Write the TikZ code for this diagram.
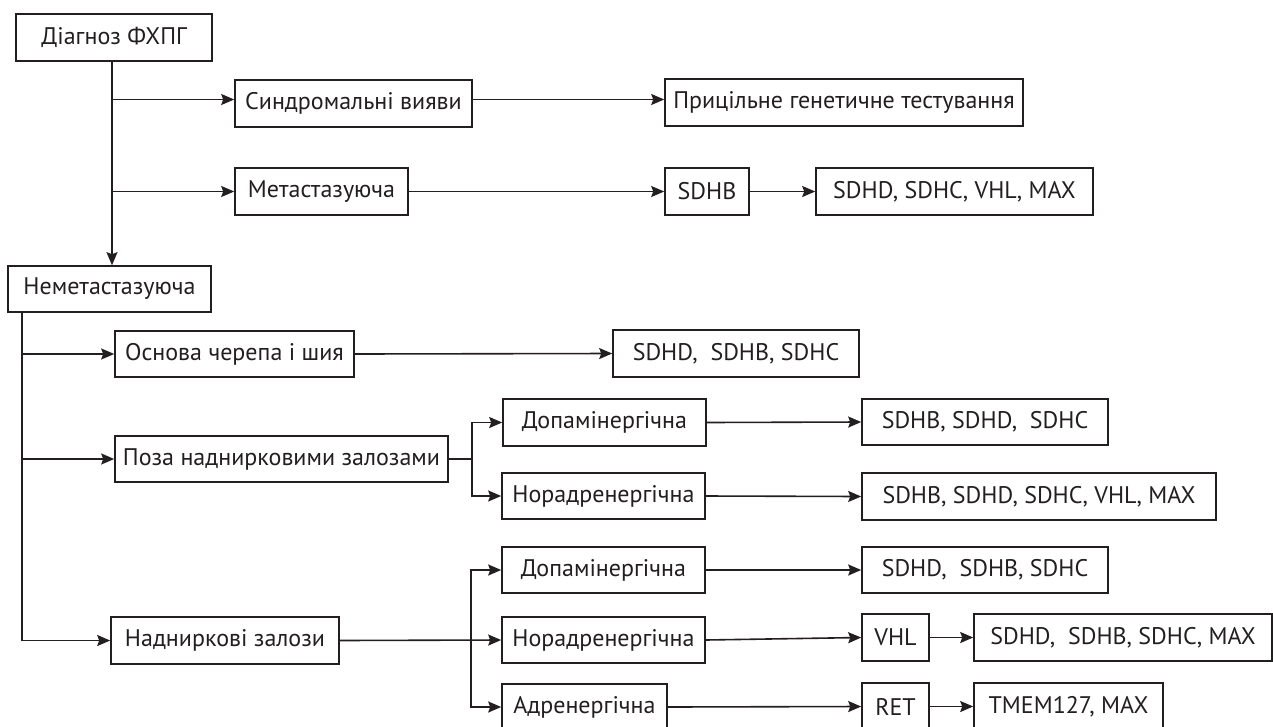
\documentclass[tikz,border=0pt]{standalone}
\usepackage{fontspec}
\setmainfont{PT Sans}
\usetikzlibrary{arrows.meta}
\definecolor{ink}{HTML}{231F20}
\tikzset{
  box/.style={draw=ink, line width=1.6pt, inner sep=0pt, font=\fontsize{24}{28}\selectfont, text=ink, anchor=center},
  arr/.style={draw=ink, line width=1.6pt, -{Stealth[length=13pt,width=11pt,inset=2pt]}},
  ln/.style={draw=ink, line width=1.6pt},
}
% \bx{name}{x1}{x2}{y1}{y2}{text}
\newcommand\bx[6]{%
  \pgfmathsetmacro\bxw{#3-#2}\pgfmathsetmacro\bxh{#5-#4}%
  \pgfmathsetmacro\bxcx{(#2+#3)/2}\pgfmathsetmacro\bxcy{(#4+#5)/2}%
  \node[box, minimum width=\bxw pt, minimum height=\bxh pt] (#1) at (\bxcx,\bxcy) {#6};}
\begin{document}
\begin{tikzpicture}[x=1pt,y=-1pt]
\useasboundingbox (0,0) rectangle (1273,726);
\fill[white] (0,0) rectangle (1273,726);
\begin{scope}
\clip (0,0) rectangle (1273,726);
\bx{d}{16}{212}{14}{61}{Діагноз ФХПГ}
\bx{s}{235}{472}{80}{127}{Синдромальні вияви}
\bx{p}{665}{1023}{79}{126}{Прицільне генетичне тестування}
\bx{m}{235}{408}{168}{215}{Метастазуюча}
\bx{sb}{665}{749}{168}{215}{SDHB}
\bx{s1}{816}{1093}{168}{215}{SDHD, SDHC, VHL, MAX}
\bx{n}{8}{211}{266}{312}{Неметастазуюча}
\bx{o}{115}{354}{331}{377}{Основа черепа і шия}
\bx{o1}{613}{859}{330}{377}{SDHD,\ \ SDHB, SDHC}
\bx{pz}{115}{448}{436}{482}{Поза наднирковими залозами}
\bx{pd}{503}{706}{399}{446}{Допамінергічна}
\bx{pn}{502}{705}{473}{519}{Норадренергічна}
\bx{pd1}{862}{1108}{399}{445}{SDHB, SDHD,\ \ SDHC}
\bx{pn1}{862}{1216}{473}{520}{SDHB, SDHD, SDHC, VHL, MAX}
\bx{nz}{111}{339}{617}{664}{Надниркові залози}
\bx{nd}{502}{705}{547}{593}{Допамінергічна}
\bx{nn}{502}{705}{617}{663}{Норадренергічна}
\bx{na}{502}{667}{684}{730}{Адренергічна}
\bx{nd1}{862}{1108}{547}{593}{SDHD,\ \ SDHB, SDHC}
\bx{vhl}{862}{929}{614}{661}{VHL}
\bx{vhl1}{974}{1272}{614}{661}{SDHD,\ \ SDHB, SDHC, MAX}
\bx{ret}{862}{929}{683}{730}{RET}
\bx{ret1}{974}{1163}{683}{730}{TMEM127, MAX}
\end{scope}
% top branch
\draw[arr] (d.south -| 112,0) -- (n.north -| 112,0);
\draw[arr] ([yshift=4pt]s.west -| 112,0) -- ([yshift=4pt]s.west);
\draw[arr] ([yshift=4pt]s.east) -- ([yshift=4pt]s.east -| p.west);
\draw[arr] (m.west -| 112,0) -- (m.west);
\draw[arr] (m.east) -- (sb.west);
\draw[arr] (sb.east) -- (s1.west);
% lower trunk
\draw[ln] (n.south -| 22,0) -- (nz.west -| 22,0);
\draw[arr] (o.west -| 22,0) -- (o.west);
\draw[arr] (o.east) -- (o1.west);
\draw[arr] (pz.west -| 22,0) -- (pz.west);
\draw[arr] (nz.west -| 22,0) -- (nz.west);
% outside adrenal
\coordinate (bp) at (472,0);
\draw[ln] (pz.east) -- (pz.east -| bp);
\draw[arr] (pn.west -| bp) |- (pd.west);
\draw[arr] (pd.west -| bp) |- (pn.west);
\draw[arr] (pd.east) -- (pd1.west);
\draw[arr] (pn.east) -- (pn1.west);
% adrenal
\coordinate (ba) at (471,0);
\draw[arr] (nz.east) -- (nn.west);
\draw[arr] (na.west -| ba) |- (nd.west);
\draw[arr] (nd.west -| ba) |- (na.west);
\draw[arr] (nd.east) -- (nd1.west);
\draw[arr] (nn.east) -- (vhl.west);
\draw[arr] (vhl.east) -- (vhl1.west);
\draw[arr] (na.east) -- (ret.west);
\draw[arr] (ret.east) -- (ret1.west);
\end{tikzpicture}
\end{document}
